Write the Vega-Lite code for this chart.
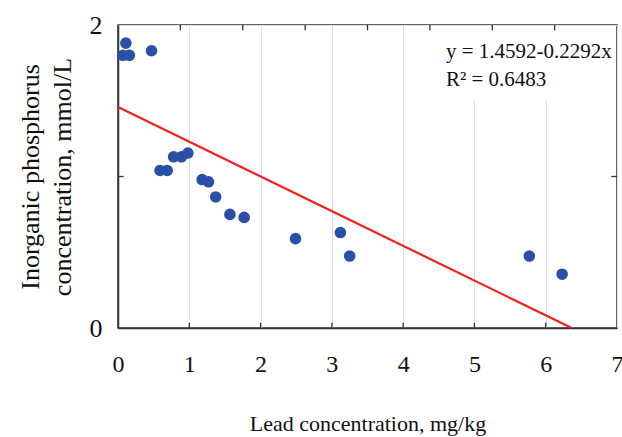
{
  "$schema": "https://vega.github.io/schema/vega-lite/v6.json",
  "width": 499,
  "height": 303,
  "autosize": "none",
  "padding": {"left": 118, "top": 25, "right": 5, "bottom": 109},
  "background": "white",
  "config": {
    "view": {"stroke": "#333333", "strokeWidth": 1.5},
    "font": "Liberation Serif"
  },
  "datasets": {
    "points": [
      {"x": 0.07, "y": 1.80},
      {"x": 0.11, "y": 1.88},
      {"x": 0.16, "y": 1.80},
      {"x": 0.47, "y": 1.83},
      {"x": 0.59, "y": 1.04},
      {"x": 0.69, "y": 1.04},
      {"x": 0.78, "y": 1.13},
      {"x": 0.89, "y": 1.13},
      {"x": 0.98, "y": 1.155},
      {"x": 1.18, "y": 0.98},
      {"x": 1.27, "y": 0.965},
      {"x": 1.37, "y": 0.865},
      {"x": 1.57, "y": 0.75},
      {"x": 1.77, "y": 0.73},
      {"x": 2.49, "y": 0.59},
      {"x": 3.12, "y": 0.63},
      {"x": 3.25, "y": 0.475},
      {"x": 5.77, "y": 0.475},
      {"x": 6.23, "y": 0.355}
    ],
    "fit": [
      {"x": 0, "y": 1.4592},
      {"x": 6.366, "y": 0}
    ],
    "box": [
      {"x1": 4.45, "x2": 6.95, "y1": 1.5, "y2": 1.99}
    ],
    "ticks": [
      {"x": 1, "x2": 1, "y": 0, "y2": 0.035},
      {"x": 2, "x2": 2, "y": 0, "y2": 0.035},
      {"x": 3, "x2": 3, "y": 0, "y2": 0.035},
      {"x": 4, "x2": 4, "y": 0, "y2": 0.035},
      {"x": 5, "x2": 5, "y": 0, "y2": 0.035},
      {"x": 6, "x2": 6, "y": 0, "y2": 0.035},
      {"x": 0.875, "x2": 0.875, "y": 1.965, "y2": 2},
      {"x": 1.75, "x2": 1.75, "y": 1.965, "y2": 2},
      {"x": 2.625, "x2": 2.625, "y": 1.965, "y2": 2},
      {"x": 3.5, "x2": 3.5, "y": 1.965, "y2": 2},
      {"x": 4.375, "x2": 4.375, "y": 1.965, "y2": 2},
      {"x": 5.25, "x2": 5.25, "y": 1.965, "y2": 2},
      {"x": 6.125, "x2": 6.125, "y": 1.965, "y2": 2},
      {"x": 0, "x2": 0.08, "y": 1, "y2": 1},
      {"x": 6.92, "x2": 7, "y": 1, "y2": 1}
    ],
    "labels": [
      {"x": 4.6, "y": 1.78, "t": "y = 1.4592-0.2292x"},
      {"x": 4.6, "y": 1.6, "t": "R² = 0.6483"}
    ]
  },
  "layer": [
    {
      "data": {"name": "points"},
      "mark": {"type": "point", "opacity": 0},
      "encoding": {
        "x": {
          "field": "x", "type": "quantitative",
          "scale": {"domain": [0, 7], "nice": false, "zero": false},
          "axis": {
            "values": [0, 1, 2, 3, 4, 5, 6, 7],
            "format": "d",
            "title": "Lead concentration, mg/kg",
            "titleFont": "Liberation Serif",
            "titleFontSize": 22,
            "titleFontWeight": "normal",
            "titleColor": "#111111",
            "titlePadding": 37,
            "labelFont": "Liberation Serif",
            "labelFontSize": 24,
            "labelColor": "#111111",
            "labelPadding": 24,
            "ticks": false,
            "domainColor": "#333333",
            "domainWidth": 1.5,
            "grid": true,
            "gridColor": "#dddddd",
            "labelFlush": false
          }
        },
        "y": {
          "field": "y", "type": "quantitative",
          "scale": {"domain": [0, 2], "nice": false, "zero": false},
          "axis": {
            "values": [0, 1, 2],
            "format": "d",
            "labelExpr": "datum.value == 1 ? '' : datum.label",
            "title": ["Inorganic phosphorus", "concentration, mmol/L"],
            "titleFont": "Liberation Serif",
            "titleFontSize": 26,
            "titleFontWeight": "normal",
            "titleColor": "#111111",
            "titleLineHeight": 32,
            "titlePadding": 14,
            "labelFont": "Liberation Serif",
            "labelFontSize": 26,
            "labelColor": "#111111",
            "labelPadding": 16,
            "ticks": false,
            "domainColor": "#333333",
            "domainWidth": 1.5,
            "grid": true,
            "gridColor": "#dddddd",
            "labelFlush": false
          }
        }
      }
    },
    {
      "data": {"name": "box"},
      "mark": {"type": "rect", "fill": "white"},
      "encoding": {
        "x": {"field": "x1", "type": "quantitative"},
        "x2": {"field": "x2"},
        "y": {"field": "y1", "type": "quantitative"},
        "y2": {"field": "y2"}
      }
    },
    {
      "data": {"name": "ticks"},
      "mark": {"type": "rule", "color": "#333333", "strokeWidth": 1.3},
      "encoding": {
        "x": {"field": "x", "type": "quantitative"},
        "x2": {"field": "x2"},
        "y": {"field": "y", "type": "quantitative"},
        "y2": {"field": "y2"}
      }
    },
    {
      "data": {"name": "fit"},
      "mark": {"type": "line", "color": "#ee2222", "strokeWidth": 2.2},
      "encoding": {
        "x": {"field": "x", "type": "quantitative"},
        "y": {"field": "y", "type": "quantitative"}
      }
    },
    {
      "data": {"name": "points"},
      "mark": {"type": "circle", "color": "#2a4fa8", "opacity": 1, "size": 135},
      "encoding": {
        "x": {"field": "x", "type": "quantitative"},
        "y": {"field": "y", "type": "quantitative"}
      }
    },
    {
      "data": {"name": "labels"},
      "mark": {"type": "text", "align": "left", "baseline": "alphabetic", "font": "Liberation Serif", "fontSize": 21, "color": "#111111"},
      "encoding": {
        "x": {"field": "x", "type": "quantitative"},
        "y": {"field": "y", "type": "quantitative"},
        "text": {"field": "t"}
      }
    }
  ]
}
